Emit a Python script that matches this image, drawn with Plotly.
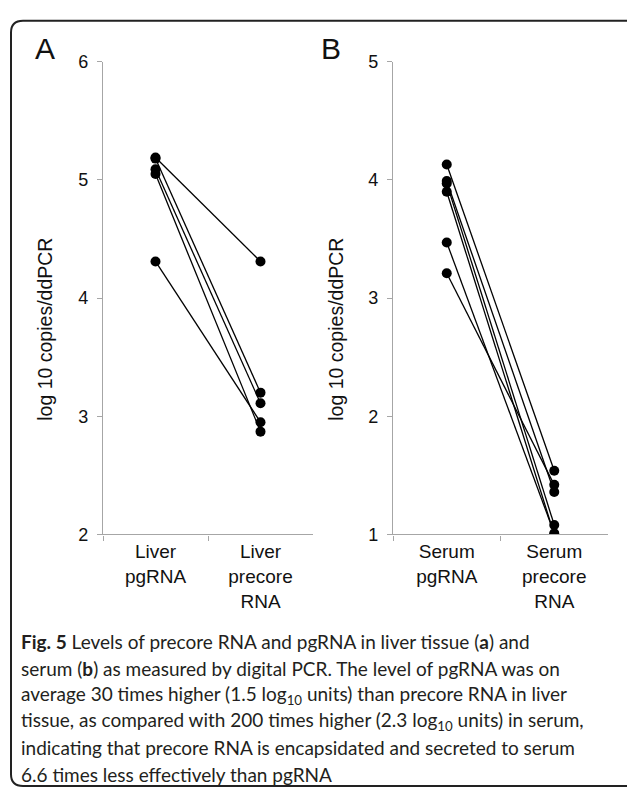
import plotly.graph_objects as go

W, H = 627, 797

# ---- data ----
liver_cats = ["Liver<br>pgRNA", "Liver<br>precore<br>RNA"]
liver_pgrna = [5.19, 5.18, 5.09, 5.05, 4.31]
liver_precore = [4.31, 3.20, 3.11, 2.87, 2.95]

serum_cats = ["Serum<br>pgRNA", "Serum<br>precore<br>RNA"]
serum_pgrna = [4.13, 3.99, 3.97, 3.90, 3.47, 3.21]
serum_precore = [1.54, 1.36, 1.08, 1.00, 1.01, 1.42]

liver_yticks = [2, 3, 4, 5, 6]
serum_yticks = [1, 2, 3, 4, 5]

y_title = "log 10 copies/ddPCR"
caption_lines = [
    "<b>Fig. 5</b> Levels of precore RNA and pgRNA in liver tissue (<b>a</b>) and",
    "serum (<b>b</b>) as measured by digital PCR. The level of pgRNA was on",
    "average 30 times higher (1.5 log<sub>10</sub> units) than precore RNA in liver",
    "tissue, as compared with 200 times higher (2.3 log<sub>10</sub> units) in serum,",
    "indicating that precore RNA is encapsidated and secreted to serum",
    "6.6 times less effectively than pgRNA",
]


def fx(px):
    return px / W


def fy(py):
    return 1 - py / H


fig = go.Figure()

for a, b in zip(liver_pgrna, liver_precore):
    fig.add_trace(go.Scatter(
        x=liver_cats, y=[a, b], mode="lines+markers", xaxis="x", yaxis="y",
        line=dict(color="black", width=1.3),
        marker=dict(color="black", size=10), showlegend=False, hoverinfo="skip"))

for a, b in zip(serum_pgrna, serum_precore):
    fig.add_trace(go.Scatter(
        x=serum_cats, y=[a, b], mode="lines+markers", xaxis="x2", yaxis="y2",
        line=dict(color="black", width=1.3),
        marker=dict(color="black", size=10), showlegend=False, hoverinfo="skip"))

axis_font = dict(family="Liberation Sans, Arial, sans-serif", size=18, color="#111")
cat_font = dict(family="Liberation Sans, Arial, sans-serif", size=19, color="#111")
line_col = "#a6a6a6"

common_x = dict(type="category", range=[-0.5, 1.5], showline=True, linecolor=line_col,
                linewidth=1.3, ticks="outside", tickson="boundaries", ticklen=5,
                tickcolor=line_col, showgrid=False, zeroline=False, tickfont=cat_font,
                fixedrange=True)
common_y = dict(showline=True, linecolor=line_col, linewidth=1.3, ticks="outside",
                ticklen=5, tickcolor=line_col, showgrid=False, zeroline=False,
                tickfont=axis_font, ticklabelstandoff=5)

ytop, ybot = 53, 538
fig.update_layout(
    width=W, height=H, margin=dict(l=0, r=0, t=0, b=0),
    paper_bgcolor="white", plot_bgcolor="white",
    xaxis=dict(domain=[fx(103), fx(313)], anchor="y", **common_x),
    yaxis=dict(domain=[fy(ybot), fy(ytop)], anchor="x", range=[liver_yticks[0], liver_yticks[-1]],
               tickvals=liver_yticks, **common_y),
    xaxis2=dict(domain=[fx(393), fx(608)], anchor="y2", **common_x),
    yaxis2=dict(domain=[fy(ybot), fy(ytop)], anchor="x2", range=[serum_yticks[0], serum_yticks[-1]],
                tickvals=serum_yticks, **common_y),
)

ann = []
# panel letters
for letter, xc in (("A", 45), ("B", 331)):
    ann.append(dict(text=letter, x=fx(xc), y=fy(39), xref="paper", yref="paper",
                    xanchor="center", yanchor="middle", showarrow=False,
                    font=dict(family="Liberation Sans, Arial, sans-serif", size=30, color="#111")))
# axis titles
for xc in (45, 336):
    ann.append(dict(text=y_title, x=fx(xc), y=fy(328), xref="paper", yref="paper",
                    xanchor="center", yanchor="middle", textangle=-90, showarrow=False,
                    font=dict(family="Liberation Sans, Arial, sans-serif", size=19.5, color="#111")))
# caption
for i, line in enumerate(caption_lines):
    ann.append(dict(text=line, x=fx(19), y=fy(648 + 27.2 * i), xref="paper", yref="paper",
                    xanchor="left", yanchor="middle", showarrow=False, align="left",
                    font=dict(family="Lato, sans-serif", size=19, color="#231f20")))
fig.update_layout(annotations=ann)

# rounded frame (top and left edges visible)
r = 12
path = (f"M {fx(640)},{fy(11)} L {fx(11 + r)},{fy(11)} "
        f"Q {fx(11)},{fy(11)} {fx(11)},{fy(11 + r)} "
        f"L {fx(11)},{fy(796 - r)} Q {fx(11)},{fy(796)} {fx(11 + r)},{fy(796)} "
        f"L {fx(640)},{fy(796)}")
fig.add_shape(type="path", path=path, xref="paper", yref="paper",
              line=dict(color="#222", width=2))

fig.write_html("out.html")
